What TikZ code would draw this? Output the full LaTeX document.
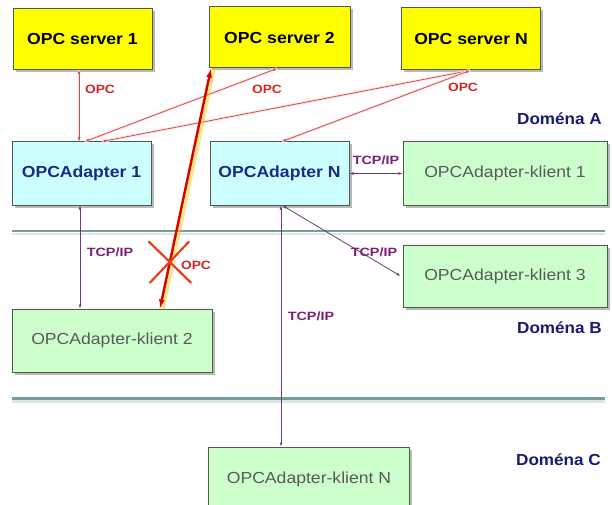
\documentclass[tikz,border=0pt]{standalone}
\usepackage{fontspec}
\usepackage{graphicx}
\setmainfont{Liberation Sans}
\usetikzlibrary{arrows.meta,shadows,calc}
\definecolor{yelfill}{HTML}{FFFF00}
\definecolor{cyanfill}{HTML}{CCFFFF}
\definecolor{greenfill}{HTML}{CCFFCC}
\definecolor{boxline}{HTML}{4F5A4F}
\definecolor{navytext}{HTML}{1C2A86}
\definecolor{domnavy}{HTML}{1A1A70}
\definecolor{opcred}{HTML}{CC2A2A}
\definecolor{opcthin}{HTML}{D24C4C}
\definecolor{xred}{HTML}{E8401E}
\definecolor{tcppurple}{HTML}{6A3C78}
\definecolor{tcptext}{HTML}{7A1F7A}
\definecolor{sepline}{HTML}{769C9C}
\definecolor{graytext}{HTML}{5A5A5A}
\newcommand{\wide}[2]{\scalebox{#1}[1]{#2}}
\tikzset{
  box/.style={draw=boxline, line width=1pt, inner sep=0pt,
    drop shadow={shadow xshift=2.5pt, shadow yshift=-2.5pt, fill=black!50, opacity=0.55}},
  server/.style={box, fill=yelfill, minimum width=139pt, minimum height=61pt,
    font=\fontsize{16}{18}\selectfont\bfseries, text=black},
  adapter/.style={box, fill=cyanfill, minimum width=139pt, minimum height=63pt,
    font=\fontsize{16}{18}\selectfont\bfseries, text=navytext},
  klient/.style={box, fill=greenfill, minimum width=202pt, minimum height=63pt,
    font=\fontsize{16}{18}\selectfont, text=graytext},
  domena/.style={font=\fontsize{16}{18}\selectfont\bfseries, text=domnavy, inner sep=0pt},
  opclabel/.style={font=\fontsize{12}{14}\selectfont\bfseries, text=opcred, inner sep=0pt},
  tcplabel/.style={font=\fontsize{12}{14}\selectfont\bfseries, text=tcptext, inner sep=0pt},
  opcline/.style={draw=opcthin, line width=0.75pt, {Latex[length=4pt,width=3pt]}-{Latex[length=4pt,width=3pt]},
    preaction={draw=red!12, line width=2.6pt, -}},
  tcpline/.style={draw=tcppurple, line width=0.8pt, {Latex[length=4pt,width=3pt]}-{Latex[length=4pt,width=3pt]}},
  blocked/.style={draw=red!85!black, line width=2.4pt, {Latex[length=9pt,width=6pt]}-{Latex[length=9pt,width=6pt]},
    preaction={draw=yellow!60!orange, draw opacity=0.45, line width=6pt, -, transform canvas={xshift=1.8pt}}},
  xmark/.style={draw=xred, line width=2.2pt, line cap=round},
  sep/.style={draw=sepline}
}
\begin{document}
\begin{tikzpicture}[x=1pt, y=-1pt]
\useasboundingbox (0,0) rectangle (612,505);
\clip (0,0) rectangle (612,505);
\fill[white] (0,0) rectangle (612,505);

% separators
\draw[sep, line width=1.2pt] (12,231) -- (605,231);
\draw[draw=sepline!25, line width=2pt] (12,233.5) -- (605,233.5);
\draw[sep, line width=3pt] (12,398) -- (605,398);
\draw[draw=sepline!25, line width=2.5pt] (12,401.5) -- (605,401.5);

% boxes
\node[server]  (s1) at (82.5,39)  {\wide{1.1}{OPC server 1}};
\node[server, minimum width=141pt] (s2) at (279.5,37.5) {\wide{1.1}{OPC server 2}};
\node[server, minimum height=62pt] (sN) at (471,39) {\wide{1.1}{OPC server N}};
\node[adapter] (a1) at (81.5,173.5) {\wide{1.1}{OPCAdapter 1}};
\node[adapter] (aN) at (279.5,173.5) {\wide{1.1}{OPCAdapter N}};
\node[klient, minimum width=204pt] (k1) at (505,173.5) {\wide{1.1}{OPCAdapter-klient 1}};
\node[klient, minimum width=204pt, minimum height=62pt] (k3) at (505,276) {\wide{1.1}{OPCAdapter-klient 3}};
\node[klient, minimum width=200pt] (k2) at (112,340.5) {\wide{1.1}{OPCAdapter-klient 2}};
\node[klient, minimum width=201pt, minimum height=64pt] (kN) at (309,479) {\wide{1.1}{OPCAdapter-klient N}};

% domain labels
\node[domena, anchor=east] (dA) at (602,119) {\wide{1.07}{Doména A}};
\node[domena, anchor=east] (dB) at (602,328) {\wide{1.07}{Doména B}};
\node[domena, anchor=east] (dC) at (601,460) {\wide{1.07}{Doména C}};

% OPC connections
\draw[opcline] ([xshift=-3.5pt]s1.south) -- ([xshift=-2.5pt]a1.north);
\draw[opcline] ([xshift=-2.5pt]s2.south) -- ([xshift=3.5pt]a1.north);
\draw[opcline] ([xshift=-1pt]sN.south) -- ([xshift=20.5pt]a1.north);
\draw[opcline] ([xshift=-1pt]sN.south) -- ([xshift=2.5pt]aN.north);
\node[opclabel] (o1) at (100,89) {\wide{1.15}{OPC}};
\node[opclabel] (o2) at (267,89) {\wide{1.15}{OPC}};
\node[opclabel] (o3) at (463,87) {\wide{1.15}{OPC}};

% blocked OPC connection
\draw[blocked] ([xshift=-68.5pt]s2.south) -- ([xshift=48pt]k2.north);
\coordinate (xc) at ($([xshift=-68.5pt]s2.south)!0.805!([xshift=48pt]k2.north)$);
\draw[xmark] ([shift={(-21,-20)}]xc) -- ([shift={(21,21)}]xc);
\draw[xmark] ([shift={(19,-20)}]xc) -- ([shift={(-20,21)}]xc);
\node[opclabel] (o4) at (196,265) {\wide{1.15}{OPC}};

% TCP/IP connections
\draw[tcpline] ([xshift=-1.5pt]a1.south) -- ([xshift=-32pt]k2.north);
\draw[tcpline] (aN.east) -- (k1.west);
\draw[tcpline] ([xshift=3pt]aN.south) -- ([xshift=-2pt]k3.west);
\draw[tcpline] ([xshift=1.5pt]aN.south) -- ([xshift=-28pt]kN.north);
\node[tcplabel] (t1) at (110,252) {\wide{1.2}{TCP/IP}};
\node[tcplabel] (t2) at (376,160) {\wide{1.2}{TCP/IP}};
\node[tcplabel] (t3) at (374,252) {\wide{1.2}{TCP/IP}};
\node[tcplabel] (t4) at (311,316) {\wide{1.2}{TCP/IP}};
\end{tikzpicture}
\end{document}
